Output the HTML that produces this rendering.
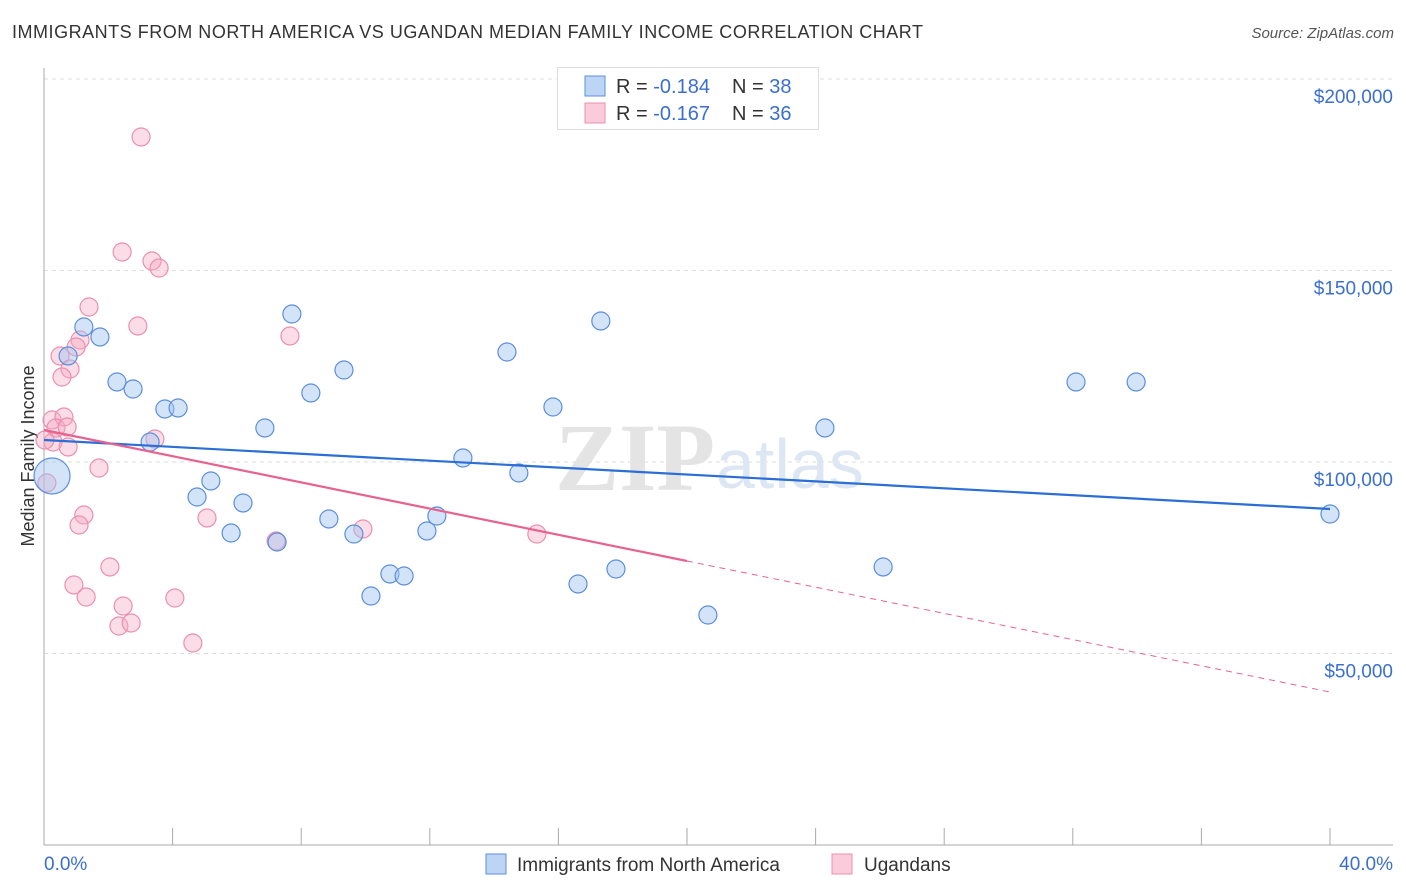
<!DOCTYPE html>
<html><head><meta charset="utf-8"><style>
body{margin:0;background:#fff;font-family:"Liberation Sans",sans-serif;}
#wrap{position:relative;width:1406px;height:892px;overflow:hidden;}
.title{position:absolute;left:12px;top:22px;font-size:18px;color:#333;letter-spacing:0.52px;}
.src{position:absolute;right:12px;top:25px;font-size:15px;color:#555;font-style:italic;}
</style></head><body>
<div id="wrap">
<div class="title">IMMIGRANTS FROM NORTH AMERICA VS UGANDAN MEDIAN FAMILY INCOME CORRELATION CHART</div>
<div class="src">Source: ZipAtlas.com</div>
<svg id="svg" width="1406" height="892" style="position:absolute;left:0;top:0"></svg>
</div>
<script>
const blueX=[1.24,1.74,0.75,2.27,2.77,3.76,4.17,3.30,5.19,4.76,6.19,5.82,6.87,7.25,7.71,8.30,9.33,8.86,9.64,10.76,11.20,10.17,11.91,12.22,13.03,14.40,14.77,15.83,16.61,17.32,17.79,20.65,24.29,26.10,32.10,33.97,40.0,0.25];
const blueY=[135250,132640,127680,120890,119060,113840,114100,105220,95040,90860,89300,81460,108880,79110,138640,118020,124020,85120,81200,70760,70240,65010,81990,85900,101050,128720,97130,114360,68150,136820,72060,60050,108880,72590,120890,120890,86420,96350];
const pinkX=[3.02,2.43,3.36,3.58,1.40,2.92,7.65,1.12,1.00,0.50,0.81,0.56,0.25,0.62,0.37,0.72,0.28,0.75,3.45,1.71,0.09,1.24,1.09,5.07,9.92,15.33,2.05,0.93,1.31,2.46,4.07,2.33,2.71,4.63,7.22,0.03];
const pinkY=[184860,154830,152480,150650,140470,135510,132900,131860,130030,127680,124280,122190,110970,111750,108880,109140,105220,103920,106010,98430,94520,86160,83550,85380,82510,81200,72590,67890,64750,62400,64490,57180,57960,52740,79370,105740];
const blueTrend=[105744,87728];
const pinkTrend=[108355,39948];
const yTicks=[50000,100000,150000,200000];
const yTickLabels=["$50,000","$100,000","$150,000","$200,000"];

const X0=44,X1=1330,YB=845,PX=191.5/50000;
const sx=v=>X0+(v/40)*(X1-X0);
const sy=v=>YB-v*PX;
const svg=document.getElementById('svg');
const NS='http://www.w3.org/2000/svg';
function mk(t,a){const e=document.createElementNS(NS,t);for(const k in a)e.setAttribute(k,a[k]);svg.appendChild(e);return e;}

yTicks.forEach((v,i)=>{
  const g=mk('line',{x1:X0,x2:1393,y1:sy(v),y2:sy(v),stroke:'#ddd','stroke-dasharray':'4,4'});
  
  
  const t=mk('text',{x:1393,y:sy(v)+24,'text-anchor':'end','font-size':19,fill:'#3a6fd0'});
  t.textContent=yTickLabels[i];
  
  
});
let ax=mk('line',{x1:X0,x2:X0,y1:68,y2:YB,stroke:'#aaa'});


ax=mk('line',{x1:X0,x2:1393,y1:YB,y2:YB,stroke:'#aaa'});


for(let i=0;i<=10;i++){const x=sx(i*4);const t=mk('line',{x1:x,x2:x,y1:828,y2:YB,stroke:'#aaa'});

}
let tl=mk('text',{x:44,y:870,'font-size':19,fill:'#3a6fd0'});tl.textContent='0.0%';


tl=mk('text',{x:1393,y:870,'font-size':19,fill:'#3a6fd0','text-anchor':'end'});tl.textContent='40.0%';


tl=mk('text',{x:34,y:456,'font-size':18,fill:'#333','text-anchor':'middle',transform:'rotate(-90 34 456)'});tl.textContent='Median Family Income';


tl=mk('text',{x:555,y:490,'font-size':96,fill:'#e4e4e4','font-family':'Liberation Serif','font-weight':'bold'});tl.textContent='ZIP';


tl=mk('text',{x:716,y:488,'font-size':70,fill:'#dde6f3'});tl.textContent='atlas';



pinkX.forEach((v,i)=>{const c=mk('circle',{cx:sx(v),cy:sy(pinkY[i]),r:9,fill:'rgba(246,170,195,0.4)',stroke:'#ec8fae','stroke-width':1.2});

});
blueX.forEach((v,i)=>{const c=mk('circle',{cx:sx(v),cy:sy(blueY[i]),r:i===blueX.length-1?18:9,fill:'rgba(160,195,240,0.45)',stroke:'#5b8fdc','stroke-width':1.2});

});

let l=mk('line',{x1:sx(0),y1:sy(blueTrend[0]),x2:sx(40),y2:sy(blueTrend[1]),stroke:'#2a6ed6','stroke-width':2.2});


const pm=pinkTrend[0]+(pinkTrend[1]-pinkTrend[0])*(20/40);
l=mk('line',{x1:sx(0),y1:sy(pinkTrend[0]),x2:sx(20),y2:sy(pm),stroke:'#e8628f','stroke-width':2.2});


l=mk('line',{x1:sx(20),y1:sy(pm),x2:sx(40),y2:sy(pinkTrend[1]),stroke:'#e8628f','stroke-width':1,'stroke-dasharray':'6,5'});



let r=mk('rect',{x:557.5,y:67.5,width:261,height:62,fill:'#fff',stroke:'#ddd'});


[['rgba(160,195,240,0.7)','#5b8fdc','-0.184','38',86],['rgba(246,170,195,0.6)','#ec8fae','-0.167','36',113]].forEach(d=>{
  const s=mk('rect',{x:585,y:d[4]-10,width:20,height:20,fill:d[0],stroke:d[1]});
  
  
  const t=mk('text',{x:616,y:d[4]+7,'font-size':20,fill:'#333'});
  t.innerHTML='R = <tspan fill="#3a6fd0">'+d[2]+'</tspan><tspan x="732">N = </tspan><tspan fill="#3a6fd0">'+d[3]+'</tspan>';
  
  
});
[[486,'rgba(160,195,240,0.7)','#5b8fdc','Immigrants from North America',517],[832,'rgba(246,170,195,0.6)','#ec8fae','Ugandans',864]].forEach(d=>{
  const s=mk('rect',{x:d[0],y:854,width:20,height:20,fill:d[1],stroke:d[2]});
  
  
  const t=mk('text',{x:d[4],y:871,'font-size':19,fill:'#333'});t.textContent=d[3];
  
  
});
</script>
</body></html>
